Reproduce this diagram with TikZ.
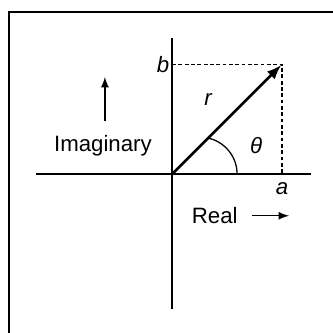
\documentclass[tikz,border=0pt]{standalone}
\usepackage{fontspec}
\setmainfont{Liberation Sans}
\usetikzlibrary{calc}
\begin{document}
\begin{tikzpicture}[
    x=0.5cm, y=0.5cm,
    font=\fontsize{9.5}{11}\selectfont,
    >=latex,
    axis/.style={line width=0.6pt},
    guide/.style={line width=0.55pt, dash pattern=on 1.6pt off 1.1pt},
    lbl/.style={inner sep=1pt}
]
\useasboundingbox (0,0) rectangle (10,10);
% frame
\coordinate (fb) at (0.27,0);
\coordinate (fc) at (0.27,9.64);
\coordinate (fr) at (10,9.64);
\draw[line width=0.6pt] (fb) -- (fc) -- (fr);

% axes
\coordinate (O) at (5.17,4.77);
\coordinate (xl) at (1.08,4.77);
\coordinate (xr) at (9.34,4.77);
\coordinate (yb) at (5.17,0.72);
\coordinate (yt) at (5.17,8.86);
\draw[axis] (xl) -- (xr);
\draw[axis] (yb) -- (yt);

% point and projections
\coordinate (P) at (8.47,8.07);
\coordinate (Pa) at (8.47,4.77);
\coordinate (Pb) at (5.17,8.07);
\draw[guide] (Pb) -- (P) -- (Pa);
\draw[->, line width=1.1pt, shorten >=0.6pt] (O) -- (P);
\draw[line width=0.55pt] ($(O)+(1.95,0)$) arc[start angle=0, end angle=79, radius=1.11];

\node[lbl, anchor=east] (b) at (Pb) {\itshape b};
\node[lbl] (a) at (8.47,4.33) {\itshape a};
\node[lbl] (r) at (6.25,7.0) {\itshape r};
\node[lbl] (th) at (7.69,5.62) {\itshape θ};

\node[lbl] (im) at (3.09,5.62) {Imaginary};
\coordinate (imt) at (3.15,7.69);
\draw[->, line width=0.55pt] ($(im.north)+(0.06,0.35)$) -- (imt);

\node[lbl] (re) at (6.45,3.52) {Real};
\coordinate (ret) at (8.68,3.52);
\draw[->, line width=0.55pt] ($(re.east)+(0.35,0)$) -- (ret);
\end{tikzpicture}
\end{document}
